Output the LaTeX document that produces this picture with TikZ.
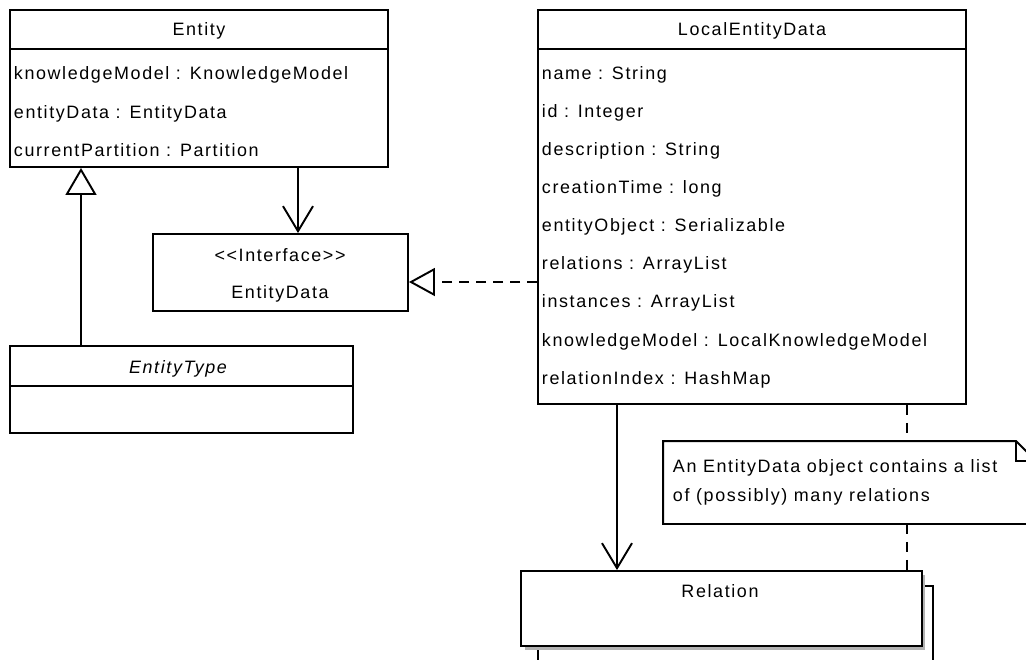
\documentclass[tikz,border=0pt]{standalone}
\usepackage{fontspec}
\newfontfamily\umlfont{Liberation Sans}[LetterSpace=9]
\usetikzlibrary{arrows.meta,shadows}

\tikzset{
  box/.style={draw,fill=white,inner sep=0pt},
  label/.style={inner sep=0pt,text height=0.7em,text depth=0.2em},
  attr/.style={label,anchor=west},
  gen/.style={-{Triangle[open,length=0.54cm,width=0.62cm,fill=white]}},
  real/.style={-{Triangle[open,length=0.52cm,width=0.56cm,fill=white]},dash pattern=on 0.2cm off 0.14cm},
  dep/.style={-{Straight Barb[length=0.5cm,width=0.6cm]}},
  notelink/.style={dash pattern=on 0.2cm off 0.16cm}
}

\begin{document}
\begin{tikzpicture}[x=0.02cm,y=-0.02cm,line width=1.1pt,
                    font=\umlfont\fontsize{10.2}{12}\selectfont]
\useasboundingbox (0,0) rectangle (1026,659);
\clip (0,0) rectangle (1026,659);

% class boxes
\begin{scope}[every node/.style={box}]
    \node[minimum width=7.56cm, minimum height=3.14cm] (entity) at (199,88.5) {};
    \node[minimum width=8.56cm, minimum height=7.88cm] (led) at (752,207) {};
    \node[minimum width=5.1cm, minimum height=1.54cm] (entityData) at (280.5,272.5) {};
    \node[minimum width=6.86cm, minimum height=1.74cm] (entityType) at (181.5,389.5) {};
    \node[minimum width=7.9cm, minimum height=2.28cm] (relBack) at (735.5,643) {};
    \node[minimum width=8.02cm, minimum height=1.5cm,
          drop shadow={shadow xshift=0.07cm,shadow yshift=-0.07cm,fill=black!30,opacity=1}]
          (relation) at (721.5,608.5) {};
\end{scope}

% compartments
\draw ([yshift=-0.8cm]entity.north west) -- ([yshift=-0.8cm]entity.north east);
\draw ([yshift=-0.8cm]led.north west) -- ([yshift=-0.8cm]led.north east);
\draw ([yshift=-0.82cm]entityType.north west) -- ([yshift=-0.82cm]entityType.north east);

% texts
\node[label] (entityName) at (199,31) {Entity};
\node[attr] (entityA1) at (13,75) {knowledgeModel : KnowledgeModel};
\node[attr] (entityA2) at (13,114) {entityData : EntityData};
\node[attr] (entityA3) at (13,152) {currentPartition : Partition};

\node[label] (ledName) at (752,31) {LocalEntityData};
\foreach \t [count=\i] in {name : String, id : Integer, description : String,
    creationTime : long, entityObject : Serializable, relations : ArrayList,
    instances : ArrayList, knowledgeModel : LocalKnowledgeModel,
    relationIndex : HashMap}
    \node[attr] (ledA\i) at (541,75+38.1*\i-38.1) {\t};

\node[label] (edStereo) at (280,257) {<{}<Interface>{}>};
\node[label] (edName) at (280,294) {EntityData};
\node[label] (etName) at (178,369) {\itshape EntityType};
\node[label] (relName) at (720,593) {Relation};

% note
\node[minimum width=7.42cm, minimum height=1.62cm, inner sep=0pt] (note) at (849.5,482.5) {};
\draw[fill=white] (note.north west) -- ([xshift=-0.4cm]note.north east)
    -- ([yshift=-0.4cm]note.north east) -- (note.south east) -- (note.south west) -- cycle;
\draw ([xshift=-0.4cm]note.north east) -- ([xshift=-0.4cm,yshift=-0.4cm]note.north east)
    -- ([yshift=-0.4cm]note.north east);
\node[attr] (noteL1) at (672,468) {An EntityData object contains a list};
\node[attr] (noteL2) at (672,497) {of (possibly) many relations};

% connectors
\coordinate (genX) at (81,0);
\coordinate (depX) at (298,0);
\coordinate (realY) at (0,282);
\coordinate (assocX) at (617,0);
\coordinate (noteX) at (907,0);

\draw[gen] (entityType.north -| genX) -- (entity.south -| genX);
\draw[dep] (entity.south -| depX) -- (entityData.north -| depX);
\draw[real] (led.west |- realY) -- (entityData.east |- realY);
\draw[dep] (led.south -| assocX) -- (relation.north -| assocX);
\draw[notelink] (led.south -| noteX) -- (note.north -| noteX);
\draw[notelink] (note.south -| noteX) -- (relation.north -| noteX);
\end{tikzpicture}
\end{document}
